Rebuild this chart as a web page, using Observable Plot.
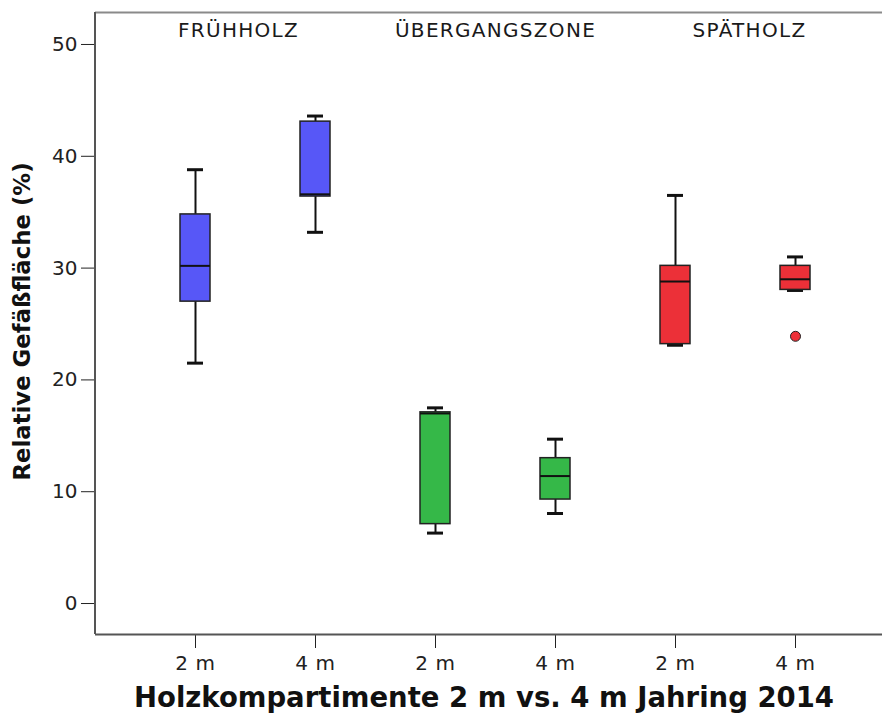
<!DOCTYPE html>
<html>
<head>
<meta charset="utf-8">
<script src="https://cdn.jsdelivr.net/npm/d3@7"></script>
<script src="https://cdn.jsdelivr.net/npm/@observablehq/plot@0.6"></script>
<style>
  html, body { margin: 0; padding: 0; background: #fff; overflow: hidden; }
  #chart svg { display: block; }
</style>
</head>
<body>
<div id="chart"></div>
<script>
// ---- data ----
const groups = ["FRÜHHOLZ", "ÜBERGANGSZONE", "SPÄTHOLZ"];
const heights = ["2 m", "4 m"];
const categories = ["F-2", "F-4", "U-2", "U-4", "S-2", "S-4"];
const categoryGroup = [0, 0, 1, 1, 2, 2];
const categoryHeight = [0, 1, 0, 1, 0, 1];
const whiskerLow  = [21.5, 33.2,  6.3,  8.05, 23.1, 28.0];
const q1          = [27.0, 36.4,  7.1,  9.3,  23.2, 28.05];
const median      = [30.2, 36.6, 17.0, 11.4,  28.8, 29.0];
const q3          = [34.8, 43.1, 17.1, 13.0,  30.2, 30.2];
const whiskerHigh = [38.8, 43.6, 17.5, 14.7,  36.5, 31.0];
const outlierCategory = ["S-4"];
const outlierValue = [23.9];
const yTicks = [0, 10, 20, 30, 40, 50];
const yTitle = "Relative Gefäßfläche (%)";
const xTitle = "Holzkompartimente 2 m vs. 4 m Jahring 2014";

// ---- styles ----
const groupColors = ["#5757f7", "#35b848", "#ec3038"];
const yDomain = [-2.77, 52.86];

const boxes = categories.map((c, i) => ({
  cat: c, group: categoryGroup[i],
  lo: whiskerLow[i], q1: q1[i], med: median[i], q3: q3[i], hi: whiskerHigh[i]
}));
const outliers = outlierCategory.map((c, i) => ({
  cat: c, value: outlierValue[i], group: categoryGroup[categories.indexOf(c)]
}));
const headerOffsets = [43, 60, 74];
const headerMarks = groups.map((g, gi) =>
  Plot.text([g], {
    x: () => categories[categoryGroup.indexOf(gi)],
    frameAnchor: "top", dy: 18, dx: headerOffsets[gi],
    lineAnchor: "middle", textAnchor: "middle",
    fontSize: 20, fill: "#1a1a1a", className: "hdr"
  })
);

const chart = Plot.plot({
  width: 882,
  height: 720,
  marginLeft: 95,
  marginRight: 0,
  marginTop: 12,
  marginBottom: 86,
  style: { fontFamily: "DejaVu Sans", fontSize: "20px", color: "#222", background: "#fff" },
  x: {
    type: "band",
    domain: categories,
    paddingInner: 0.75,
    paddingOuter: 0.6495,
    align: 0.5385,
    tickSize: 14,
    tickPadding: 7,
    tickFormat: c => heights[categoryHeight[categories.indexOf(c)]],
    label: null
  },
  y: {
    domain: yDomain,
    ticks: yTicks,
    tickSize: 14,
    tickPadding: 4,
    label: null
  },
  marks: [
    Plot.ruleY([yDomain[1]], { stroke: "#8a8a8a", strokeWidth: 2 }),
    Plot.ruleY([yDomain[0]], { stroke: "#555", strokeWidth: 2 }),
    // whiskers
    Plot.ruleX(boxes, { x: "cat", y1: "lo", y2: "q1", stroke: "#111", strokeWidth: 2 }),
    Plot.ruleX(boxes, { x: "cat", y1: "q3", y2: "hi", stroke: "#111", strokeWidth: 2 }),
    Plot.tickY(boxes, { x: "cat", y: "lo", stroke: "#111", strokeWidth: 3, inset: 7 }),
    Plot.tickY(boxes, { x: "cat", y: "hi", stroke: "#111", strokeWidth: 3, inset: 7 }),
    // boxes
    Plot.barY(boxes, { x: "cat", y1: "q1", y2: "q3", fill: d => groupColors[d.group], stroke: "#222", strokeWidth: 1.5 }),
    Plot.tickY(boxes, { x: "cat", y: "med", stroke: "#111", strokeWidth: 2 }),
    // outliers
    Plot.dot(outliers, { x: "cat", y: "value", r: 5, fill: d => groupColors[d.group], stroke: "#222", strokeWidth: 1 }),
    ...headerMarks,
    Plot.text([yTitle], { frameAnchor: "left", dx: -73, dy: -2, rotate: -90, textAnchor: "middle", lineAnchor: "middle", fontSize: 22.8, fontWeight: "bold", fill: "#111" }),
    Plot.text([xTitle], { frameAnchor: "bottom", dy: 64, dx: -5, textAnchor: "middle", lineAnchor: "middle", fontSize: 27.5, fontWeight: "bold", fill: "#111" })
  ]
});
const svg = d3.select(chart);
svg.selectAll(".hdr text").style("letter-spacing", "1.3px");
svg.selectAll("g[aria-label='x-axis tick label'] text").style("letter-spacing", "0.6px");
// left frame line (axis line)
svg.append("line")
  .attr("x1", 95).attr("x2", 95).attr("y1", 12).attr("y2", 634)
  .attr("stroke", "#555").attr("stroke-width", 2);
document.getElementById("chart").appendChild(chart);
</script>
</body>
</html>
